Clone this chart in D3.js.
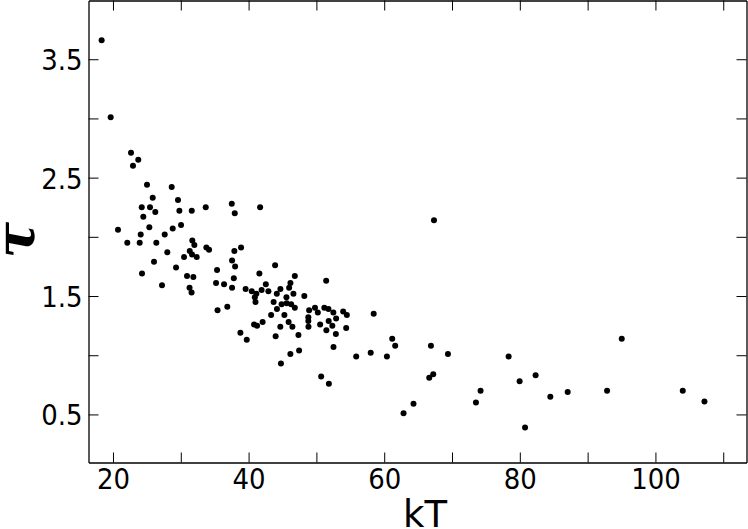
<!DOCTYPE html>
<html>
<head>
<meta charset="utf-8">
<script src="https://cdn.jsdelivr.net/npm/d3@7"></script>
<style>
  body { margin: 0; background: #fff; }
  svg { display: block; }
</style>
</head>
<body>
<div id="scatter"></div>
<script>
// data
var kT = [18.33, 19.66, 22.66, 23.73, 22.95, 25.02, 28.66, 25.86, 29.59, 24.24,
  25.46, 26.24, 29.79, 31.62, 33.68, 37.52, 37.96, 41.70, 24.47, 20.74,
  25.36, 28.81, 30.04, 24.09, 27.63, 22.11, 23.94, 26.39, 31.70, 32.00,
  33.77, 34.17, 38.89, 37.90, 28.01, 31.32, 31.66, 32.35, 30.48, 26.05,
  37.56, 38.01, 29.30, 35.35, 43.91, 24.28, 30.92, 31.85, 41.59, 37.82,
  27.23, 35.20, 36.38, 42.54, 31.29, 37.56, 39.56, 31.59, 40.47, 41.92,
  42.92, 44.16, 41.15, 40.92, 41.02, 44.69, 36.86, 35.42, 43.69, 44.87,
  44.18, 46.82, 51.44, 46.17, 45.98, 46.61, 45.58, 48.22, 45.61, 46.27,
  46.82, 48.93, 49.79, 50.21, 51.17, 51.78, 52.50, 53.95, 54.49, 45.28,
  48.81, 48.81, 52.91, 51.81, 52.35, 50.55, 45.90, 46.46, 44.68, 48.83,
  51.47, 54.39, 52.87, 47.35, 58.45, 52.52, 46.16, 47.45, 44.77, 55.87,
  58.01, 60.40, 61.18, 61.62, 50.70, 51.84, 38.79, 39.73, 40.81, 41.25,
  42.07, 43.32, 43.99, 67.34, 66.89, 69.40, 66.64, 67.23, 62.85, 64.32,
  73.53, 74.21, 78.35, 79.97, 82.33, 80.77, 84.50, 87.06, 92.87, 95.03,
  104.03, 107.23];

var tau = [3.66, 3.01, 2.71, 2.65, 2.60, 2.44, 2.42, 2.33, 2.31, 2.25,
  2.25, 2.21, 2.22, 2.22, 2.25, 2.28, 2.20, 2.25, 2.17, 2.06,
  2.08, 2.07, 2.10, 2.02, 2.02, 1.95, 1.95, 1.95, 1.97, 1.93,
  1.91, 1.89, 1.91, 1.88, 1.87, 1.88, 1.85, 1.83, 1.83, 1.79,
  1.80, 1.75, 1.74, 1.72, 1.76, 1.69, 1.67, 1.66, 1.69, 1.65,
  1.59, 1.61, 1.60, 1.60, 1.57, 1.57, 1.56, 1.53, 1.54, 1.55,
  1.54, 1.52, 1.52, 1.49, 1.45, 1.56, 1.41, 1.38, 1.45, 1.43,
  1.39, 1.67, 1.63, 1.61, 1.57, 1.52, 1.49, 1.50, 1.44, 1.43,
  1.40, 1.38, 1.40, 1.36, 1.40, 1.39, 1.36, 1.37, 1.34, 1.34,
  1.32, 1.29, 1.31, 1.29, 1.25, 1.26, 1.28, 1.24, 1.24, 1.24,
  1.21, 1.23, 1.18, 1.17, 1.35, 1.07, 1.01, 1.04, 0.93, 0.99,
  1.02, 0.99, 1.14, 1.08, 0.82, 0.76, 1.19, 1.13, 1.26, 1.25,
  1.28, 1.34, 1.16, 2.14, 1.08, 1.01, 0.81, 0.84, 0.51, 0.59,
  0.60, 0.70, 0.99, 0.78, 0.83, 0.39, 0.65, 0.69, 0.70, 1.14,
  0.70, 0.61];

var xTicks = [20, 30, 40, 50, 60, 70, 80, 90, 100, 110];
var xTickLabels = ["20", "", "40", "", "60", "", "80", "", "100", ""];
var yTicks = [0.5, 1.0, 1.5, 2.0, 2.5, 3.0, 3.5];
var yTickLabels = ["0.5", "", "1.5", "", "2.5", "", "3.5"];

var svgWidth = 748;
var svgHeight = 529;

var margin = {top: 0.5, left: 88.5};
var width = 658;
var height = 462;

var svg = d3.select("#scatter")
  .append("svg")
  .attr("width", svgWidth)
  .attr("height", svgHeight);

var chartGroup = svg.append("g")
  .attr("transform", `translate(${margin.left}, ${margin.top})`);

// scales
var xLinearScale = d3.scaleLinear()
  .domain([16.39, 113.43])
  .range([0, width]);

var yLinearScale = d3.scaleLinear()
  .domain([0.094, 3.996])
  .range([height, 0]);

var stretch = 1.11;
var tickFont = "'DejaVu Sans', sans-serif";

// axes, ticks pointing inward on all four sides
var bottomAxis = d3.axisBottom(xLinearScale)
  .tickValues(xTicks)
  .tickSize(-10)
  .tickSizeOuter(0)
  .tickFormat((d, i) => xTickLabels[i]);

var leftAxis = d3.axisLeft(yLinearScale)
  .tickValues(yTicks)
  .tickSize(-10)
  .tickSizeOuter(0)
  .tickFormat((d, i) => yTickLabels[i]);

var topAxis = d3.axisTop(xLinearScale)
  .tickValues(xTicks)
  .tickSize(-10)
  .tickSizeOuter(0)
  .tickFormat("");

var rightAxis = d3.axisRight(yLinearScale)
  .tickValues(yTicks)
  .tickSize(-10)
  .tickSizeOuter(0)
  .tickFormat("");

var xAxis = chartGroup.append("g")
  .attr("transform", `translate(0, ${height})`)
  .call(bottomAxis);

xAxis.selectAll("text")
  .attr("y", 24.1)
  .attr("dy", 0)
  .attr("transform", `scale(1, ${stretch})`)
  .style("font-family", tickFont)
  .style("font-size", "26px")
  .attr("fill", "#000");

var yAxis = chartGroup.append("g")
  .call(leftAxis);

yAxis.selectAll("text")
  .attr("x", -6)
  .attr("y", 9.5)
  .attr("dy", 0)
  .attr("transform", `scale(1, ${stretch})`)
  .style("font-family", tickFont)
  .style("font-size", "26px")
  .attr("fill", "#000");

chartGroup.append("g")
  .call(topAxis);

chartGroup.append("g")
  .attr("transform", `translate(${width}, 0)`)
  .call(rightAxis);

chartGroup.selectAll(".domain")
  .attr("stroke", "#000")
  .attr("stroke-width", 1.3);

chartGroup.selectAll(".tick line")
  .attr("stroke", "#000")
  .attr("stroke-width", 1);

// points
chartGroup.selectAll("circle")
  .data(kT)
  .enter()
  .append("circle")
  .attr("cx", d => xLinearScale(d))
  .attr("cy", (d, i) => yLinearScale(tau[i]))
  .attr("r", 3)
  .attr("fill", "#000");

// axis labels
svg.append("text")
  .attr("x", 425)
  .attr("y", 527)
  .attr("text-anchor", "middle")
  .style("font-family", tickFont)
  .style("font-size", "37px")
  .text("kT");

svg.append("text")
  .attr("transform", "translate(34, 240) rotate(-90)")
  .attr("text-anchor", "middle")
  .style("font-family", "'DejaVu Serif', serif")
  .style("font-style", "italic")
  .style("font-weight", "bold")
  .style("font-size", "54px")
  .text("τ");
</script>
</body>
</html>
